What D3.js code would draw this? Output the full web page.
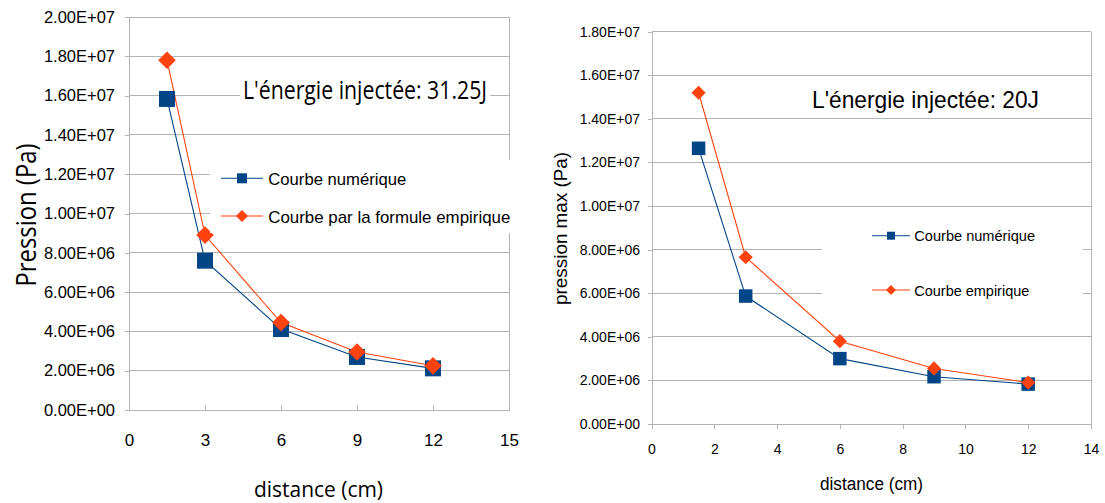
<!DOCTYPE html>
<html>
<head>
<meta charset="utf-8">
<script src="https://cdn.jsdelivr.net/npm/d3@7"></script>
<style>
  html, body { margin: 0; padding: 0; background: #fff; }
  svg { display: block; }
</style>
</head>
<body>
<svg id="chart" width="1105" height="503"></svg>
<script>
// ---------- data ----------
const distances = [1.5, 3, 6, 9, 12];

const leftNumeric   = [1.583e7, 7.6e6, 4.12e6, 2.70e6, 2.12e6];
const leftEmpirical = [1.78e7, 8.9e6, 4.45e6, 2.95e6, 2.25e6];

const rightNumeric   = [1.265e7, 5.87e6, 3.0e6, 2.17e6, 1.83e6];
const rightEmpirical = [1.52e7, 7.65e6, 3.8e6, 2.55e6, 1.9e6];

const leftXTicks  = [0, 3, 6, 9, 12, 15];
const leftYTicks  = [0, 2e6, 4e6, 6e6, 8e6, 1e7, 1.2e7, 1.4e7, 1.6e7, 1.8e7, 2e7];
const rightXTicks = [0, 2, 4, 6, 8, 10, 12, 14];
const rightYTicks = [0, 2e6, 4e6, 6e6, 8e6, 1e7, 1.2e7, 1.4e7, 1.6e7, 1.8e7];

const leftTitle  = "L'énergie injectée: 31.25J";
const rightTitle = "L'énergie injectée: 20J";
const leftLegend  = ["Courbe numérique", "Courbe par la formule empirique"];
const rightLegend = ["Courbe numérique", "Courbe empirique"];
const leftYLabel  = "Pression (Pa)";
const rightYLabel = "pression max (Pa)";
const xLabel = "distance (cm)";

// ---------- styles ----------
const BLUE = "#004586", ORANGE = "#ff420e", GRID = "#b3b3b3";
const SANS = "'Liberation Sans', Arial, sans-serif";
const OPEN = "'Open Sans', 'Noto Sans', sans-serif";

const sci = v => {
  if (v === 0) return "0.00E+00";
  const e = Math.floor(Math.log10(v) + 1e-9);
  const m = v / Math.pow(10, e);
  return m.toFixed(2) + "E" + (e >= 0 ? "+" : "-") + String(Math.abs(e)).padStart(2, "0");
};

const svg = d3.select("#chart");

function text(g, x, y, s, o) {
  const t = g.append("text")
    .attr("x", x).attr("y", y)
    .attr("font-family", o.family || SANS)
    .attr("font-size", o.size)
    .attr("fill", "#000")
    .attr("text-anchor", o.anchor || "start")
    .text(s);
  if (o.len) t.attr("textLength", o.len).attr("lengthAdjust", "spacingAndGlyphs");
  if (o.rotate) t.attr("transform", `rotate(${o.rotate},${x},${y})`);
  return t;
}

function marker(g, type, x, y, side, color) {
  const sym = d3.symbol(d3.symbolSquare, side * side);
  g.append("path")
    .attr("d", sym())
    .attr("fill", color)
    .attr("transform", `translate(${x},${y})` + (type === "diamond" ? " rotate(45)" : ""));
}

function drawChart(cfg) {
  const g = svg.append("g");
  const x = d3.scaleLinear().domain(cfg.xDomain).range(cfg.xRange);
  const y = d3.scaleLinear().domain(cfg.yDomain).range(cfg.yRange);

  // gridlines
  g.append("g").selectAll("line")
    .data(cfg.yTicks.filter(v => v > 0))
    .join("line")
    .attr("x1", cfg.xRange[0]).attr("x2", cfg.xRange[1])
    .attr("y1", d => y(d)).attr("y2", d => y(d))
    .attr("stroke", GRID).attr("stroke-width", 1)
    .attr("shape-rendering", "crispEdges");

  // right border
  g.append("line")
    .attr("x1", cfg.xRange[1]).attr("x2", cfg.xRange[1])
    .attr("y1", cfg.yRange[1]).attr("y2", cfg.yRange[0])
    .attr("stroke", GRID).attr("shape-rendering", "crispEdges");

  // axes
  const ya = g.append("g")
    .attr("transform", `translate(${cfg.xRange[0]},0)`)
    .call(d3.axisLeft(y).tickValues(cfg.yTicks).tickFormat(sci)
      .tickSize(4).tickSizeOuter(0).tickPadding(cfg.yPad));
  const xa = g.append("g")
    .attr("transform", `translate(0,${cfg.yRange[0]})`)
    .call(d3.axisBottom(x).tickValues(cfg.xTicks).tickFormat(d3.format("d"))
      .tickSize(cfg.xTickSize).tickSizeOuter(0).tickPadding(cfg.xPad));
  [ya, xa].forEach(a => {
    a.select(".domain").attr("stroke", GRID).attr("shape-rendering", "crispEdges");
    a.selectAll(".tick line").attr("stroke", GRID).attr("shape-rendering", "crispEdges");
    a.selectAll(".tick text").attr("font-family", SANS).attr("fill", "#000");
  });
  ya.selectAll(".tick text").attr("font-size", cfg.yFont);
  xa.selectAll(".tick text").attr("font-size", cfg.xFont);
  ya.attr("font-size", null).attr("font-family", null);
  xa.attr("font-size", null).attr("font-family", null);

  // annotation
  if (cfg.noteBg) {
    g.append("rect").attr("x", cfg.noteBg[0]).attr("y", cfg.noteBg[1])
      .attr("width", cfg.noteBg[2]).attr("height", cfg.noteBg[3]).attr("fill", "#fff");
  }
  text(g, cfg.note.x, cfg.note.y, cfg.noteText, cfg.note);

  // series
  const series = [
    {vals: cfg.numeric, color: BLUE, type: "square", side: cfg.sq},
    {vals: cfg.empirical, color: ORANGE, type: "diamond", side: cfg.dm}
  ];
  const line = d3.line().x(d => x(d[0])).y(d => y(d[1]));
  series.forEach(s => {
    const pts = distances.map((d, i) => [d, s.vals[i]]);
    g.append("path").attr("d", line(pts)).attr("fill", "none")
      .attr("stroke", s.color).attr("stroke-width", 1.1);
  });
  series.forEach(s => {
    distances.forEach((d, i) => marker(g, s.type, x(d), y(s.vals[i]), s.side, s.color));
  });

  // legend
  const L = cfg.legend;
  g.append("rect").attr("x", L.box[0]).attr("y", L.box[1])
    .attr("width", L.box[2]).attr("height", L.box[3]).attr("fill", "#fff");
  cfg.legendText.forEach((s, i) => {
    const c = series[i];
    const ly = L.rows[i];
    g.append("line").attr("x1", L.x1).attr("x2", L.x2).attr("y1", ly).attr("y2", ly)
      .attr("stroke", c.color).attr("stroke-width", 1.1);
    marker(g, c.type, (L.x1 + L.x2) / 2, ly, c.type === "square" ? L.sq : L.dm, c.color);
    text(g, L.tx, ly + L.dy, s, {size: L.size, len: L.lens[i]});
  });

  // axis titles
  text(g, cfg.yl.x, cfg.yl.y, cfg.yLabel, Object.assign({anchor: "middle", rotate: -90}, cfg.yl));
  text(g, cfg.xl.x, cfg.xl.y, xLabel, Object.assign({anchor: "middle"}, cfg.xl));
}

drawChart({
  xDomain: [0, 15], xRange: [129, 509],
  yDomain: [0, 2e7], yRange: [410, 17],
  xTicks: leftXTicks, yTicks: leftYTicks,
  yPad: 10, yFont: "16.5px", xTickSize: -5, xPad: 24, xFont: "17px",
  numeric: leftNumeric, empirical: leftEmpirical, sq: 16, dm: 12.5,
  noteText: leftTitle,
  note: {x: 243, y: 99, size: "26px", family: OPEN, len: 244},
  noteBg: [240, 78, 250, 28],
  legendText: leftLegend,
  legend: {box: [210, 160, 320, 73], x1: 221, x2: 263, rows: [178.3, 216],
           sq: 10, dm: 8.5, tx: 268.3, dy: 6.7, size: "17px", lens: [138, 242]},
  yLabel: leftYLabel,
  yl: {x: 36, y: 215, size: "27px", family: OPEN, len: 143},
  xl: {x: 318.5, y: 497, size: "22px", family: OPEN, len: 129}
});

drawChart({
  xDomain: [0, 14], xRange: [651.5, 1091],
  yDomain: [0, 1.8e7], yRange: [424, 31.7],
  xTicks: rightXTicks, yTicks: rightYTicks,
  yPad: 7.5, yFont: "14px", xTickSize: 5, xPad: 15, xFont: "14px",
  numeric: rightNumeric, empirical: rightEmpirical, sq: 13.5, dm: 10,
  noteText: rightTitle,
  note: {x: 812, y: 108.3, size: "24px", family: SANS, len: 227},
  noteBg: null,
  legendText: rightLegend,
  legend: {box: [822, 212, 261, 93], x1: 872, x2: 910, rows: [235.7, 290],
           sq: 8, dm: 7, tx: 914.3, dy: 5.5, size: "14.5px", lens: [120.7, 115]},
  yLabel: rightYLabel,
  yl: {x: 567, y: 228.4, size: "18px", family: SANS, len: 153},
  xl: {x: 871.5, y: 490, size: "18px", family: SANS, len: 103}
});
</script>
</body>
</html>
